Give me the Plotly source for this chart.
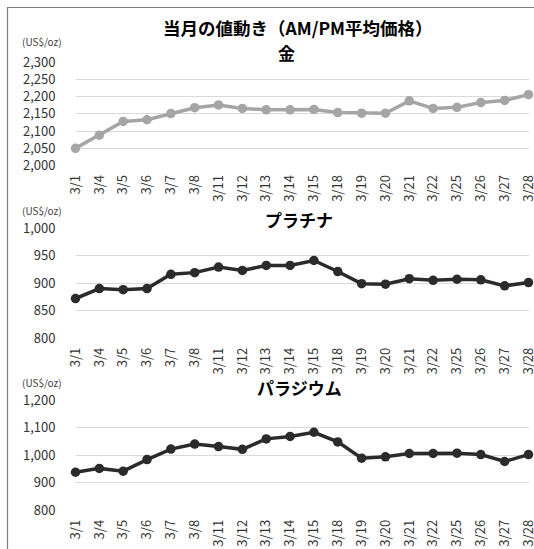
import plotly.graph_objects as go

dates = ["3/1", "3/4", "3/5", "3/6", "3/7", "3/8", "3/11", "3/12", "3/13", "3/14",
         "3/15", "3/18", "3/19", "3/20", "3/21", "3/22", "3/25", "3/26", "3/27", "3/28"]
gold = [2050, 2088, 2128, 2133, 2151, 2168, 2176, 2166, 2162, 2162,
        2163, 2154, 2152, 2152, 2188, 2166, 2169, 2183, 2189, 2206]
platinum = [872, 890, 888, 890, 916, 919, 929, 923, 932, 932,
            941, 921, 899, 898, 908, 905, 907, 906, 895, 901]
palladium = [938, 952, 942, 984, 1022, 1040, 1031, 1021, 1059, 1068,
             1083, 1048, 989, 994, 1006, 1006, 1007, 1002, 977, 1002]

main_title = "当月の値動き（AM/PM平均価格）"
sub_titles = ["金", "プラチナ", "パラジウム"]
unit_label = "(US$/oz)"

W, H = 534, 549
FONT = "Noto Sans CJK JP"


def py(px):
    return 1 - px / H


def pxx(px):
    return px / W


fig = go.Figure()

panels = [
    dict(data=gold, color="#A5A5A5", top=62.3, bottom=165.5, rng=[2000, 2300], dtick=50,
         title_x=286, title_y=52, unit_y=41.5),
    dict(data=platinum, color="#2b2b2b", top=228.0, bottom=338.2, rng=[800, 1000], dtick=50,
         title_x=299, title_y=219, unit_y=210),
    dict(data=palladium, color="#2b2b2b", top=400.0, bottom=510.3, rng=[800, 1200], dtick=100,
         title_x=299, title_y=387, unit_y=382),
]

x_left, x_right = 75.5, 528.5

annotations = [dict(text="<b>" + main_title + "</b>", x=pxx(298), y=py(28), xref="paper", yref="paper",
                    showarrow=False, font=dict(family=FONT, size=17.5, color="#000000"),
                    xanchor="center", yanchor="middle")]

for i, p in enumerate(panels):
    n = "" if i == 0 else str(i + 1)
    fig.add_trace(go.Scatter(
        x=dates, y=p["data"], mode="lines+markers",
        line=dict(color=p["color"], width=3.5),
        marker=dict(color=p["color"], size=9.5, symbol="circle"),
        cliponaxis=False, showlegend=False,
        xaxis="x" + n, yaxis="y" + n,
    ))
    fig.layout["xaxis" + n] = dict(
        type="category", range=[0, len(dates) - 1], domain=[pxx(x_left), pxx(x_right)],
        anchor="y" + n, tickangle=-90, showgrid=False, showline=False, zeroline=False,
        ticks="", ticklabelstandoff=6,
        tickfont=dict(family=FONT, size=13, color="#333333"),
    )
    fig.layout["yaxis" + n] = dict(
        range=p["rng"], dtick=p["dtick"], domain=[py(p["bottom"]), py(p["top"])],
        anchor="x" + n, showgrid=True, gridcolor="#D9D9D9", gridwidth=1.2,
        showline=False, zeroline=False, ticks="", tickformat=",d",
        ticklabelstandoff=19,
        tickfont=dict(family=FONT, size=13, color="#333333"),
    )
    annotations.append(dict(text="<b>" + sub_titles[i] + "</b>", x=pxx(p["title_x"]), y=py(p["title_y"]),
                            xref="paper", yref="paper", showarrow=False,
                            font=dict(family=FONT, size=17, color="#000000"),
                            xanchor="center", yanchor="middle"))
    annotations.append(dict(text=unit_label, x=pxx(42), y=py(p["unit_y"]),
                            xref="paper", yref="paper", showarrow=False,
                            font=dict(family=FONT, size=10, color="#404040"),
                            xanchor="center", yanchor="middle"))

fig.update_layout(
    width=W, height=H,
    margin=dict(l=0, r=0, t=0, b=0, autoexpand=False),
    paper_bgcolor="#FFFFFF", plot_bgcolor="#FFFFFF",
    annotations=annotations,
    shapes=[dict(type="rect", xref="paper", yref="paper",
                 x0=pxx(7.5), x1=1.2, y0=-0.2, y1=py(7.5),
                 line=dict(color="#7F7F7F", width=1.2), fillcolor="rgba(0,0,0,0)", layer="below")],
)

fig.write_html(
    "out.html",
    config={"displayModeBar": False},
    post_script="document.body.style.margin='0';document.body.style.overflow='hidden';"
                "document.documentElement.style.overflow='hidden';",
)
